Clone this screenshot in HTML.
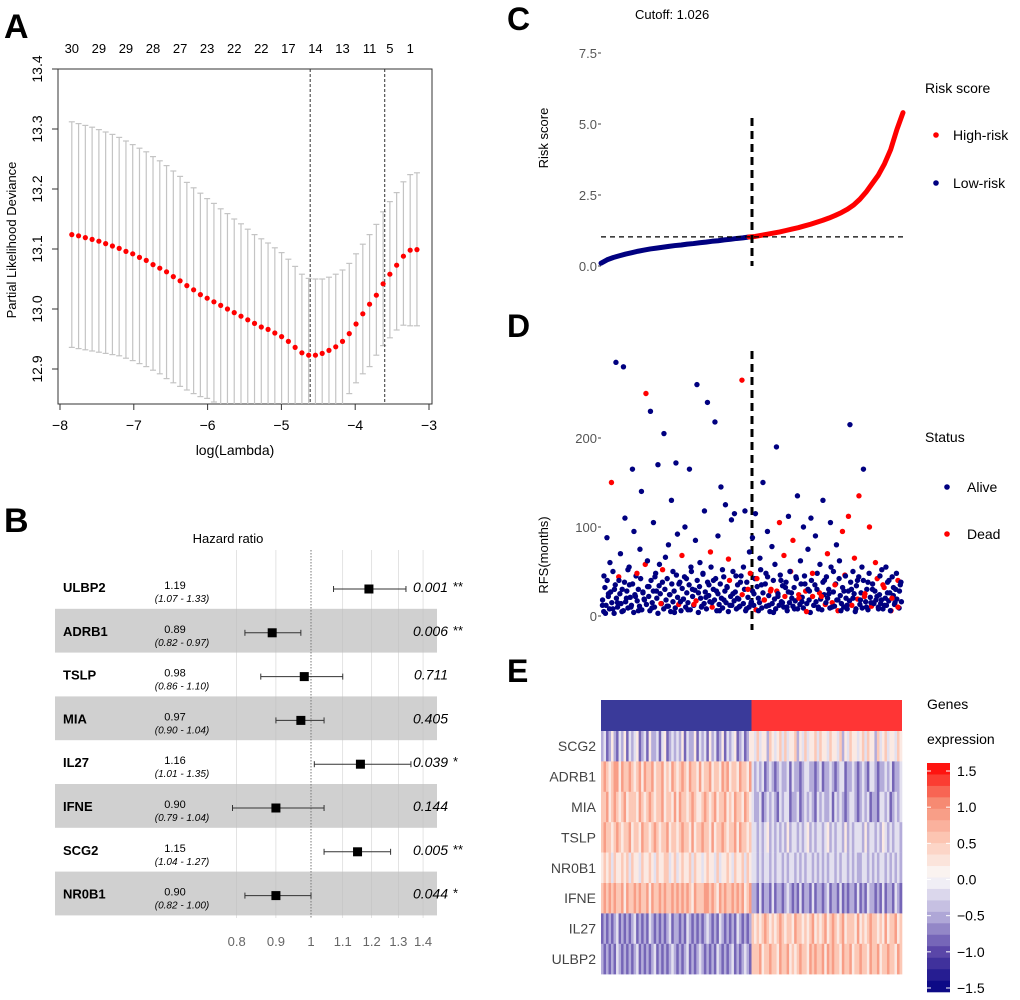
<!DOCTYPE html>
<html><head><meta charset="utf-8"><style>
body{margin:0;background:#fff}
svg{display:block;font-family:"Liberation Sans",sans-serif}
</style></head><body>
<svg id="fig" width="1020" height="1000" viewBox="0 0 1020 1000">
<rect width="1020" height="1000" fill="#fff"/>
<g id="pA"></g>
<g id="pB"></g>
<g id="pC"></g>
<g id="pD"></g>
<g id="pE"></g>
</svg>
<script>
// ---------- Panel A data ----------
const aStartLogLambda = -7.84;
const aStepLogLambda = 0.0917;
const aMean = [13.124,13.122,13.119,13.116,13.113,13.109,13.105,13.101,13.096,13.092,13.086,13.081,13.074,13.068,13.062,13.054,13.047,13.039,13.032,13.024,13.018,13.012,13.006,13.000,12.994,12.988,12.982,12.976,12.970,12.966,12.960,12.954,12.946,12.936,12.927,12.923,12.923,12.926,12.931,12.937,12.946,12.959,12.975,12.992,13.008,13.023,13.042,13.058,13.073,13.088,13.098,13.099];
const aUpper = [13.312,13.309,13.306,13.303,13.299,13.295,13.291,13.286,13.280,13.274,13.268,13.262,13.254,13.247,13.239,13.230,13.221,13.211,13.202,13.193,13.184,13.176,13.167,13.159,13.150,13.142,13.133,13.124,13.117,13.110,13.102,13.094,13.083,13.071,13.058,13.051,13.050,13.050,13.053,13.058,13.065,13.076,13.092,13.108,13.124,13.141,13.162,13.179,13.194,13.212,13.224,13.227];
const aLower = [12.936,12.934,12.932,12.930,12.928,12.926,12.924,12.922,12.918,12.914,12.909,12.904,12.898,12.892,12.884,12.877,12.871,12.865,12.859,12.854,12.851,12.845,12.840,12.835,12.830,12.825,12.820,12.815,12.810,12.805,12.800,12.795,12.790,12.790,12.790,12.795,12.800,12.805,12.810,12.820,12.830,12.859,12.877,12.892,12.904,12.923,12.939,12.952,12.965,12.973,12.972,12.972];
const aTopIdx = [0,4,8,12,16,20,24,28,32,36,40,44,47,50];
const aTopLabels = ["30","29","29","28","27","23","22","22","17","14","13","11","5","1"];
const aXTicks = [-8,-7,-6,-5,-4,-3];
const aYTicks = [12.9,13.0,13.1,13.2,13.3,13.4];
const aCutLines = [-4.61,-3.60];

// ---------- Panel B data ----------
const bGenes = ["ULBP2","ADRB1","TSLP","MIA","IL27","IFNE","SCG2","NR0B1"];
const bHR = [1.19,0.89,0.98,0.97,1.16,0.90,1.15,0.90];
const bLo = [1.07,0.82,0.86,0.90,1.01,0.79,1.04,0.82];
const bHi = [1.33,0.97,1.10,1.04,1.35,1.04,1.27,1.00];
const bP = ["0.001","0.006","0.711","0.405","0.039","0.144","0.005","0.044"];
const bStars = ["**","**","","","*","","**","*"];
const bTicks = [0.8,0.9,1,1.1,1.2,1.3,1.4];

// ---------- Panel C data ----------
const cRisk = [0.10,0.22,0.30,0.36,0.42,0.47,0.52,0.56,0.60,0.63,0.66,0.69,0.72,0.74,0.77,0.79,0.82,0.84,0.87,0.89,0.92,0.94,0.97,0.99,1.02,
1.04,1.08,1.12,1.16,1.20,1.25,1.30,1.35,1.41,1.47,1.54,1.61,1.69,1.78,1.88,2.00,2.15,2.35,2.60,2.90,3.20,3.60,4.10,4.80,5.40];
const cCutoff = 1.026;
const cYTicks = [0.0,2.5,5.0,7.5];

// ---------- Panel D data ----------
const dRFS = [12,45,3,88,25,60,150,8,30,285,15,40,70,5,280,110,20,52,35,10,
165,95,22,48,6,75,140,27,18,250,62,33,230,9,105,44,28,170,58,14,
38,205,66,11,80,24,130,50,4,172,92,36,16,68,19,100,42,7,165,55,
30,13,85,260,26,60,10,48,118,21,240,35,72,15,40,218,28,90,6,145,
52,18,125,33,64,12,108,25,115,45,
20,10,38,265,55,118,8,30,72,14,88,25,115,42,6,65,35,150,18,48,
95,12,28,78,4,58,190,22,105,40,15,68,32,10,112,50,26,85,8,44,
135,20,62,16,100,36,5,75,28,110,48,12,90,30,8,58,22,130,40,15,
70,25,105,10,50,35,80,18,62,6,95,28,45,12,112,215,30,20,65,8,
40,135,18,55,165,25,10,38,100,15,
30,14,60,22,8,45,18,35,12,55,26,40,6,20,32,15,48,10,28,38];
const dDeadIdx = [6,23,29,39,53,61,72,84,93,97,103,108,112,118,121,127,131,136,140,146,150,155,160,164,168,171,175,178,182,187,193,197];
const dRFS2 = [18,5,32,12,40,22,8,27,15,50,3,35,20,10,44,25,14,30,6,38,
16,28,9,55,21,12,36,4,24,45,17,30,11,42,7,26,19,58,13,33,
22,6,40,15,28,10,48,20,3,34,25,14,52,8,30,18,42,11,24,5,
36,16,28,9,46,21,13,38,6,31,19,44,10,26,15,35,7,50,22,12,
29,17,40,4,33,20,11,47,14,27,8,38,23,16,55,10,30,18,42,6,
25,13,36,20,9,44,28,15,32,5,40,22,12,50,17,27,8,35,19,11,
45,24,14,30,6,38,21,10,48,16,28,12,42,7,33,20,15,52,9,26,
18,36,11,44,23,5,30,14,40,19,8,28,25,12,46,16,34,10,22,38,
6,27,15,50,20,11,32,17,42,8,24,13,36,21,9,45,28,14,30,18,
4,40,22,12,35,16,48,10,26,19,7,38,24,13,44,20,30,9,55,15,
27,11,36,18,6,42,23,14,32,10,46,20,8,28,17,38,12,50,25,5,
34,19,44,13,26,9,40,22,16,30,7,48,21,11,36,15,28,18,42,10,
24,14,52,8,32,20,12,38,17,26,6,44,23,13,30,19,40,9,35,16];
const dDead2Idx = [14,37,52,66,81,95,110,121,128,133,140,146,151,158,163,170,176,182,188,193,199,204,210,216,221,227,233,238,244,250,256];
const dYTicks = [0,100,200];

// ---------- Panel E data ----------
const eGenes = ["SCG2","ADRB1","MIA","TSLP","NR0B1","IFNE","IL27","ULBP2"];
const eRows = [
"342353243524345234253342452343"+"435243352434253423524345234235"+"546455365456464556354645564655"+"465546354655456465536456455465",
"676567757667656757667566756576"+"567657665756675665767566576657"+"434342343234334243323443323423"+"343234423343234324432334342334",
"667567656756665765676566756657"+"576656765567656756675657665765"+"433423434324344233423434324343"+"342434323443234342332443423434",
"676656765667566576656765667566"+"567665756676657566765667576656"+"443434534343435344343453434434"+"534344353434443534434354343443",
"565646556564655465565465566456"+"456556465545655464556546556465"+"443434434344343443434344343434"+"344343443434334434343443434343",
"676767667576676766757667676676"+"767676576667767657676676767567"+"332423324233234323242332423323"+"423324232332423243323242332432",
"232323423232342323243232323423"+"323243232323432324323232432323"+"656567656567656657665656756567"+"567656756665756567665657566756",
"323232432323234232323423232343"+"232342323432323243232342323432"+"666756676657667565676657676675"+"767665766756676657667566766576"];
const eLegendTicks = [1.5,1.0,0.5,0.0,-0.5,-1.0,-1.5];

const NS="http://www.w3.org/2000/svg";
function mk(parent,tag,attrs,text){const e=document.createElementNS(NS,tag);for(const k in attrs)e.setAttribute(k,attrs[k]);if(text!==undefined)e.textContent=text;parent.appendChild(e);return e;}

// ===== Panel A =====
(function(){
const g=document.getElementById('pA');
const xA=l=>60+(l+8)*73.8, yA=v=>69+(13.4-v)*600;
const clip=y=>Math.max(69,Math.min(404,y));
let t=mk(g,'text',{x:4,y:38,'font-size':34,'font-weight':'bold'},'A');

const box=mk(g,'rect',{x:58,y:69,width:374,height:335,fill:'none',stroke:'#333','stroke-width':1});

aXTicks.forEach(v=>{const x=xA(v);mk(g,'line',{x1:x,x2:x,y1:404,y2:410,stroke:'#333'});
 const l=mk(g,'text',{x:x,y:430,'font-size':14,'text-anchor':'middle'},v<0?'\u2212'+(-v):String(v));
 });
aYTicks.forEach(v=>{const y=yA(v);mk(g,'line',{x1:52,x2:58,y1:y,y2:y,stroke:'#333'});
 const l=mk(g,'text',{x:42,y:y,'font-size':14,'text-anchor':'middle',transform:`rotate(-90 42 ${y})`},v.toFixed(1));
 });
let xt=mk(g,'text',{x:235,y:455,'font-size':14,'text-anchor':'middle'},'log(Lambda)');

let yt=mk(g,'text',{x:16,y:240,'font-size':13,'text-anchor':'middle',transform:'rotate(-90 16 240)'},'Partial Likelihood Deviance');

aTopIdx.forEach((idx,i)=>{const x=xA(aStartLogLambda+idx*aStepLogLambda);
 const l=mk(g,'text',{x:x,y:53,'font-size':13,'text-anchor':'middle'},aTopLabels[i]);
 });
aMean.forEach((m,i)=>{const x=xA(aStartLogLambda+i*aStepLogLambda);
 const yu=yA(aUpper[i]),yl=yA(aLower[i]);
 const e=mk(g,'line',{x1:x,x2:x,y1:clip(yu),y2:clip(yl),stroke:'#c4c4c4','stroke-width':1.2});
 
 if(yu>=69&&yu<=404)mk(g,'line',{x1:x-3,x2:x+3,y1:yu,y2:yu,stroke:'#c4c4c4','stroke-width':1.2});
 if(yl>=69&&yl<=404)mk(g,'line',{x1:x-3,x2:x+3,y1:yl,y2:yl,stroke:'#c4c4c4','stroke-width':1.2});
});
aCutLines.forEach(l=>{const x=xA(l);const d=mk(g,'line',{x1:x,x2:x,y1:69,y2:404,stroke:'#333','stroke-dasharray':'3,2'});
 });
aMean.forEach((m,i)=>{const x=xA(aStartLogLambda+i*aStepLogLambda);
 const c=mk(g,'circle',{cx:x,cy:yA(m),r:2.6,fill:'#ff0000'});
 });
})();

// ===== Panel B =====
(function(){
const g=document.getElementById('pB');
const xB=v=>311+333*Math.log(v);
const rowY=i=>587+43.8*i;
let t=mk(g,'text',{x:4,y:532,'font-size':34,'font-weight':'bold'},'B');

let h=mk(g,'text',{x:228,y:543,'font-size':13,'text-anchor':'middle'},'Hazard ratio');

bGenes.forEach((gn,i)=>{if(i%2===1){const r=mk(g,'rect',{x:55,y:rowY(i)-22,width:382,height:43.8,fill:'#d0d0d0'});
 }});
bTicks.forEach(v=>{const x=xB(v);
 if(v!==1){const gl=mk(g,'line',{x1:x,x2:x,y1:550,y2:918,stroke:'#bdbdbd','stroke-width':0.6,'stroke-opacity':0.7});
 }
 const l=mk(g,'text',{x:x,y:946,'font-size':13,fill:'#666','text-anchor':'middle'},String(v));
 });
const ref=mk(g,'line',{x1:xB(1),x2:xB(1),y1:550,y2:918,stroke:'#777','stroke-dasharray':'1.5,1.5'});

bGenes.forEach((gn,i)=>{const y=rowY(i);
 const n=mk(g,'text',{x:63,y:y+5,'font-size':13,'font-weight':'bold'},gn);
 
 const hr=mk(g,'text',{x:175,y:y+2,'font-size':11,'text-anchor':'middle'},bHR[i].toFixed(2));
 
 const ci=mk(g,'text',{x:182,y:y+15,'font-size':10,'font-style':'italic','text-anchor':'middle'},`(${bLo[i].toFixed(2)} - ${bHi[i].toFixed(2)})`);
 
 const yy=y+2;
 const cl=mk(g,'line',{x1:xB(bLo[i]),x2:xB(bHi[i]),y1:yy,y2:yy,stroke:'#333','stroke-width':1});
 
 mk(g,'line',{x1:xB(bLo[i]),x2:xB(bLo[i]),y1:yy-3,y2:yy+3,stroke:'#333'});
 mk(g,'line',{x1:xB(bHi[i]),x2:xB(bHi[i]),y1:yy-3,y2:yy+3,stroke:'#333'});
 const sq=mk(g,'rect',{x:xB(bHR[i])-4.5,y:yy-4.5,width:9,height:9,fill:'#000'});
 
 const p=mk(g,'text',{x:448,y:y+5,'font-size':14,'font-style':'italic','text-anchor':'end'},bP[i]);
 
 if(bStars[i]){const s=mk(g,'text',{x:453,y:y+4,'font-size':13},bStars[i]);
 }
});
})();

// ===== Panel C =====
(function(){
const g=document.getElementById('pC');
const x0=601,x1=903;
const xC=i=>x0+(x1-x0)*i/(cRisk.length-1);
const yC=v=>266-28.4*v;
let t=mk(g,'text',{x:507,y:30,'font-size':32,'font-weight':'bold'},'C');

let ct=mk(g,'text',{x:635,y:19,'font-size':13},'Cutoff: '+cCutoff.toFixed(3));

cYTicks.forEach(v=>{const y=yC(v);mk(g,'line',{x1:598,x2:601,y1:y,y2:y,stroke:'#444'});
 const l=mk(g,'text',{x:597,y:y+5,'font-size':13,fill:'#555','text-anchor':'end'},v.toFixed(1));
 });
let yt=mk(g,'text',{x:548,y:138,'font-size':13,'text-anchor':'middle',transform:'rotate(-90 548 138)'},'Risk score');

const split=cRisk.findIndex(v=>v>cCutoff);
const mkLine=(a,b,col,name)=>{let pts=[];for(let i=a;i<=b;i++)pts.push(xC(i)+','+yC(cRisk[i]));
 const p=mk(g,'polyline',{points:pts.join(' '),fill:'none',stroke:col,'stroke-width':5,'stroke-linejoin':'round','stroke-linecap':'round'});
 };
mkLine(0,split-1,'#000080','low-risk-series');
mkLine(split-1,cRisk.length-1,'#ff0000','high-risk-series');
const hl=mk(g,'line',{x1:x0,x2:x1,y1:yC(cCutoff),y2:yC(cCutoff),stroke:'#000','stroke-dasharray':'5,4','stroke-width':1.3});

const vl=mk(g,'line',{x1:752,x2:752,y1:118,y2:266,stroke:'#000','stroke-dasharray':'8,5','stroke-width':3});

let lt=mk(g,'text',{x:925,y:93,'font-size':14},'Risk score');

[['High-risk','#ff0000',135],['Low-risk','#000080',183]].forEach(([n,c,y])=>{
 const d=mk(g,'circle',{cx:936,cy:y,r:2.8,fill:c});
 const tx=mk(g,'text',{x:953,y:y+5,'font-size':14},n);});
})();

// ===== Panel D =====
(function(){
const g=document.getElementById('pD');
const x0=602,x1=902;
const yD=v=>616-0.89*v;
let t=mk(g,'text',{x:507,y:337,'font-size':32,'font-weight':'bold'},'D');

dYTicks.forEach(v=>{const y=yD(v);mk(g,'line',{x1:598,x2:601,y1:y,y2:y,stroke:'#444'});
 const l=mk(g,'text',{x:597,y:y+5,'font-size':13,fill:'#555','text-anchor':'end'},String(v));
 });
let yt=mk(g,'text',{x:548,y:555,'font-size':13,'text-anchor':'middle',transform:'rotate(-90 548 555)'},'RFS(months)');

const vl=mk(g,'line',{x1:752,x2:752,y1:351,y2:630,stroke:'#000','stroke-dasharray':'8,5','stroke-width':3});

function drawSet(arr,dead,off){
 const step=(x1-x0)/(arr.length);
 arr.forEach((v,i)=>{const isDead=dead.includes(i);
  const c=mk(g,'circle',{cx:x0+step*(i+off),cy:yD(v),r:2.7,fill:isDead?'#ff0000':'#000080'});
  
  });
}
drawSet(dRFS2,dDead2Idx,0.5);
drawSet(dRFS,dDeadIdx,0.3);
let lt=mk(g,'text',{x:925,y:442,'font-size':14},'Status');

[['Alive','#000080',487],['Dead','#ff0000',534]].forEach(([n,c,y])=>{
 const d=mk(g,'circle',{cx:947,cy:y,r:2.8,fill:c});
 const tx=mk(g,'text',{x:967,y:y+5,'font-size':14},n);});
})();

// ===== Panel E =====
(function(){
const g=document.getElementById('pE');
const stops=[[-1.5,[0,0,128]],[-1,[85,65,165]],[-0.5,[180,172,218]],[0,[250,250,250]],[0.5,[252,200,182]],[1,[246,135,110]],[1.5,[255,0,0]]];
function col(v){v=Math.max(-1.5,Math.min(1.5,v));for(let k=0;k<stops.length-1;k++){const[a,ca]=stops[k],[b,cb]=stops[k+1];if(v<=b){const f=(v-a)/(b-a);return `rgb(${ca.map((c,j)=>Math.round(c+(cb[j]-c)*f)).join(',')})`;}}return 'rgb(255,0,0)';}
let t=mk(g,'text',{x:507,y:682,'font-size':32,'font-weight':'bold'},'E');

const x0=601,x1=902,top=731,rh=30.4,nc=eRows[0].length,cw=(x1-x0)/nc;
const lo=mk(g,'rect',{x:x0,y:700,width:(x1-x0)/2,height:31,fill:'#3a3a9a'});

const hi=mk(g,'rect',{x:(x0+x1)/2,y:700,width:(x1-x0)/2,height:31,fill:'#ff3535'});

eRows.forEach((row,r)=>{
 for(let c=0;c<nc;c++){const v=(parseInt(row[c])-4.5)/3;
  const cell=mk(g,'rect',{x:x0+c*cw,y:top+r*rh,width:cw+0.3,height:rh+0.2,fill:col(v)});
  }
 const l=mk(g,'text',{x:596,y:top+r*rh+rh/2+5,'font-size':14,fill:'#444','text-anchor':'end'},eGenes[r]);
 
});
let l1=mk(g,'text',{x:927,y:709,'font-size':14},'Genes');
let l2=mk(g,'text',{x:927,y:744,'font-size':14},'expression');
const cb0=763,cb1=992,nseg=20,sh=(cb1-cb0)/nseg;
for(let k=0;k<nseg;k++){const v=1.5-(k+0.5)*3/nseg;
 const s=mk(g,'rect',{x:927,y:cb0+k*sh,width:23,height:sh+0.3,fill:col(v)});
 }
const yL=v=>cb0+8+(1.5-v)/3*(cb1-cb0-12);
eLegendTicks.forEach(v=>{const y=yL(v);
 mk(g,'line',{x1:927,x2:931,y1:y,y2:y,stroke:'#fff'});mk(g,'line',{x1:946,x2:950,y1:y,y2:y,stroke:'#fff'});
 const l=mk(g,'text',{x:957,y:y+5,'font-size':14},v<0?'\u2212'+(-v).toFixed(1):v.toFixed(1));
 });
})();
</script>
</body></html>
